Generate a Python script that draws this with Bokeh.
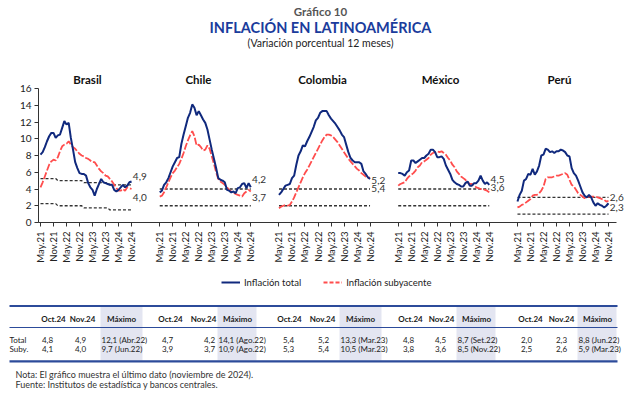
import math
from bokeh.plotting import figure
from bokeh.models import Range1d, FixedTicker, Label, Legend, LegendItem
from bokeh.embed import file_html
from bokeh.resources import INLINE
from bokeh.core.properties import value

# ---------------- data ----------------
countries = ["Brasil", "Chile", "Colombia", "México", "Perú"]
tick_labels = ["May.21", "Nov.21", "May.22", "Nov.22", "May.23", "Nov.23", "May.24", "Nov.24"]

# monthly, May 2021 .. Nov 2024
brasil_total = [8.1, 8.4, 9.0, 9.7, 10.3, 10.7, 10.7, 10.1,
                10.4, 10.5, 11.3, 12.1, 11.7, 11.9, 10.1, 8.7, 7.2, 6.5, 5.9, 5.8,
                5.8, 5.6, 4.7, 4.2, 3.9, 3.2, 4.0, 4.6, 5.2, 4.8, 4.7, 4.6,
                4.5, 4.5, 3.9, 3.7, 3.9, 4.2, 4.5, 4.2, 4.4, 4.8, 4.9]
brasil_core = [4.2, 4.8, 5.5, 6.2, 6.9, 7.3, 7.5, 7.4,
               7.8, 8.5, 9.1, 9.3, 9.4, 9.7, 9.3, 9.0, 8.8, 8.5, 8.2, 8.0,
               7.9, 7.7, 7.6, 7.4, 7.2, 7.2, 6.8, 6.4, 6.1, 5.9, 5.6, 5.5,
               5.2, 4.9, 4.5, 4.1, 3.8, 3.8, 4.0, 3.8, 4.2, 4.1, 4.0]
chile_total = [3.6, 3.8, 4.5, 4.8, 5.3, 6.0, 6.7, 7.2,
               7.7, 7.8, 9.4, 10.5, 11.5, 12.5, 13.1, 14.1, 13.7, 12.8, 13.3, 12.8,
               12.3, 11.9, 11.1, 9.9, 8.7, 7.6, 6.5, 5.3, 5.1, 5.0, 4.8, 3.9,
               3.8, 3.6, 3.7, 3.5, 4.1, 4.2, 4.6, 4.7, 4.1, 4.7, 4.2]
chile_core = [3.1, 3.2, 3.6, 4.2, 4.8, 5.4, 5.9, 6.2,
              6.6, 7.0, 7.6, 8.3, 9.1, 9.8, 10.4, 10.9, 10.3, 9.2, 9.3, 9.0,
              8.6, 8.7, 9.2, 8.8, 7.9, 7.0, 6.0, 5.2, 4.9, 4.7, 4.5, 4.2,
              3.9, 3.7, 3.6, 3.4, 3.3, 3.2, 3.1, 3.5, 3.7, 3.9, 3.7]
colombia_total = [3.3, 3.6, 4.0, 4.4, 4.5, 4.6, 5.3, 5.6,
                  6.9, 8.0, 8.5, 9.2, 9.1, 9.7, 10.2, 10.8, 11.4, 12.2, 12.5, 13.1,
                  13.3, 13.3, 13.3, 12.8, 12.4, 12.1, 11.8, 11.4, 11.0, 10.5, 10.2, 9.3,
                  8.4, 7.7, 7.4, 7.2, 7.2, 7.2, 7.0, 6.1, 5.8, 5.4, 5.2]
colombia_core = [1.7, 1.9, 2.0, 2.1, 2.0, 2.1, 2.5, 3.0,
                 3.6, 4.2, 4.8, 5.4, 5.9, 6.3, 6.8, 7.3, 7.8, 8.3, 8.8, 9.3,
                 9.8, 10.2, 10.5, 10.5, 10.4, 10.2, 9.9, 9.6, 9.2, 8.8, 8.4, 8.0,
                 7.6, 7.3, 7.0, 6.7, 6.4, 6.2, 5.9, 5.7, 5.5, 5.3, 5.4]
mexico_total = [5.9, 5.9, 5.8, 5.6, 6.0, 6.2, 7.4, 7.4,
                7.1, 7.3, 7.5, 7.7, 7.7, 8.0, 8.2, 8.7, 8.7, 8.4, 7.8, 7.8,
                7.9, 7.6, 6.8, 6.3, 5.8, 5.1, 4.8, 4.6, 4.5, 4.3, 4.3, 4.7,
                4.9, 4.4, 4.4, 4.7, 4.7, 5.0, 5.6, 5.0, 4.6, 4.8, 4.5]
mexico_core = [4.4, 4.6, 4.7, 4.8, 5.2, 5.5, 5.7, 5.9,
               6.2, 6.6, 6.8, 7.2, 7.3, 7.5, 7.7, 8.1, 8.3, 8.4, 8.5, 8.4,
               8.5, 8.3, 8.1, 7.7, 7.4, 6.9, 6.6, 6.1, 5.8, 5.5, 5.3, 5.1,
               4.8, 4.6, 4.6, 4.4, 4.2, 4.1, 4.0, 4.0, 3.9, 3.8, 3.6]
peru_total = [2.5, 3.3, 3.8, 5.0, 5.2, 5.8, 5.7, 6.4,
              5.7, 6.1, 6.8, 8.0, 8.1, 8.8, 8.7, 8.4, 8.5, 8.3, 8.5, 8.5,
              8.7, 8.6, 8.4, 8.0, 7.9, 6.5, 5.9, 5.6, 5.0, 4.3, 3.6, 3.2,
              3.0, 3.3, 3.0, 2.4, 2.0, 2.3, 2.1, 2.0, 1.8, 2.0, 2.3]
peru_core = [1.8, 1.9, 2.1, 2.2, 2.4, 2.6, 2.8, 3.2,
             3.3, 3.3, 3.5, 3.8, 4.3, 5.2, 5.4, 5.4, 5.4, 5.5, 5.6, 5.6,
             5.7, 5.8, 5.9, 5.7, 5.1, 4.5, 4.3, 3.9, 3.5, 3.3, 3.1, 2.9,
             3.0, 3.1, 3.1, 3.1, 3.1, 3.0, 2.9, 2.8, 2.7, 2.5, 2.6]

# inflation target ranges
brasil_upper_by_year = [5.25, 5.0, 4.75, 4.5]   # 2021..2024
brasil_lower_by_year = [2.25, 2.0, 1.75, 1.5]
months_in_year = [8, 12, 12, 11]
target_upper = [None, 4.0, 4.0, 4.0, 3.0]
target_lower = [None, 2.0, 2.0, 2.0, 1.0]

totals = [brasil_total, chile_total, colombia_total, mexico_total, peru_total]
cores = [brasil_core, chile_core, colombia_core, mexico_core, peru_core]

# table
table_cols = ["Oct.24", "Nov.24", "Máximo"]
row_names = ["Total", "Suby."]
oct_total = ["4,8", "4,7", "5,4", "4,8", "2,0"]
nov_total = ["4,9", "4,2", "5,2", "4,5", "2,3"]
max_total = ["12,1 (Abr.22)", "14,1 (Ago.22)", "13,3 (Mar.23)", "8,7 (Set.22)", "8,8 (Jun.22)"]
oct_core = ["4,1", "3,9", "5,3", "3,8", "2,5"]
nov_core = ["4,0", "3,7", "5,4", "3,6", "2,6"]
max_core = ["9,7 (Jun.22)", "10,9 (Ago.22)", "10,5 (Mar.23)", "8,5 (Nov.22)", "5,9 (Mar.23)"]

# ---------------- styles / layout ----------------
FONT = "Lato"
BLUE = "#10297d"
RED = "#ff4d4d"
TITLE_BLUE = "#1a3c9c"
GAP = 55          # months between panel starts
PXM = 2.168       # pixels per month
TOP_H = 265       # height of chart figure (page px)
X0 = -2 / PXM     # frame left at page x 38, first month at page x 40
X1 = X0 + 594 / PXM
Y1 = 222 * 16 / 134


def px2x(px):
    return X0 + (px - 38) / PXM


def py2y(py):
    return (222 - py) * 16 / 134


p = figure(width=640, height=TOP_H, x_range=Range1d(X0, X1), y_range=Range1d(0, Y1),
           output_backend="svg", toolbar_location=None,
           min_border_left=38, min_border_right=8, min_border_top=0,
           min_border_bottom=TOP_H - 222)
p.outline_line_color = None
p.xgrid.visible = False
p.ygrid.visible = False
p.background_fill_color = None
p.border_fill_color = "white"

for ax in (p.xaxis[0], p.yaxis[0]):
    ax.axis_line_color = "#333333"
    ax.major_tick_line_color = "#333333"
    ax.major_tick_in = 0
    ax.major_tick_out = 4
    ax.minor_tick_line_color = None
    ax.major_label_text_font = FONT
    ax.major_label_text_color = "#222222"

p.yaxis.ticker = FixedTicker(ticks=list(range(0, 17, 2)))
p.yaxis.bounds = (0, 16)
p.yaxis.major_label_text_font_size = "10px"
p.yaxis.major_label_standoff = 3

xt = []
overrides = {}
for k in range(len(countries)):
    for j, lab in enumerate(tick_labels):
        tv = k * GAP + j * 6
        xt.append(tv)
        overrides[tv] = lab
p.xaxis.ticker = FixedTicker(ticks=xt)
p.xaxis.bounds = (X0, px2x(616))
p.xaxis.major_label_overrides = overrides
p.xaxis.major_label_orientation = math.pi / 2
p.xaxis.major_label_text_font_size = "9.5px"
p.xaxis.major_label_standoff = 5

for k in range(len(countries)):
    n = len(totals[k])
    xs = [k * GAP + i for i in range(n)]
    if k == 0:
        up = [v for v, m in zip(brasil_upper_by_year, months_in_year) for _ in range(m)]
        lo = [v for v, m in zip(brasil_lower_by_year, months_in_year) for _ in range(m)]
    else:
        up = [target_upper[k]] * n
        lo = [target_lower[k]] * n
    p.line(xs, up, color="#333333", line_width=1.3, line_dash="3 2")
    p.line(xs, lo, color="#333333", line_width=1.3, line_dash="3 2")
    p.line(xs, cores[k], color=RED, line_width=1.8, line_dash="7 2")
    p.line(xs, totals[k], color=BLUE, line_width=2)


def lbl(text, px, py, size, bold=False, color="#222222", align="center"):
    p.add_layout(Label(x=px2x(px), y=py2y(py), text=text, text_font=FONT,
                       text_font_size=f"{size}px",
                       text_font_style="bold" if bold else "normal",
                       text_color=color, text_align=align, text_baseline="middle"))


lbl("Gráfico 10", 320, 11, 11.5, bold=True, color="#555555")
lbl("INFLACIÓN EN LATINOAMÉRICA", 320, 27, 14.5, bold=True, color=TITLE_BLUE)
lbl("(Variación porcentual 12 meses)", 320, 42, 10.5, color="#222222")

name_px = [87, 198, 322, 440, 559]
for k, name in enumerate(countries):
    lbl(name, name_px[k], 79, 11.5, bold=True, color="#111111")

# end-of-series value labels
total_lbl_py = [176, 179, 180, 179, 206.5]
core_lbl_py = [197, 196.5, 188, 187, 197]
for k in range(len(countries)):
    xe = k * GAP + len(totals[k]) - 1 + 0.6
    for series, py in ((totals[k], total_lbl_py[k]), (cores[k], core_lbl_py[k])):
        txt = f"{series[-1]:.1f}".replace(".", ",")
        p.add_layout(Label(x=xe, y=py2y(py), text=txt, text_font=FONT, text_font_size="10px",
                           text_color="#333333", text_align="left", text_baseline="middle"))

# ---------------- legend + table (separate root, page-pixel coordinates) ----------------
BOT_H = 397 - TOP_H
t = figure(width=640, height=BOT_H, x_range=Range1d(0, 640), y_range=Range1d(397, TOP_H),
           output_backend="svg", toolbar_location=None, min_border=0,
           x_axis_location=None, y_axis_location=None)
t.xgrid.visible = False
t.ygrid.visible = False
t.outline_line_color = None
t.background_fill_color = None

nan = float("nan")
lb = t.line([0, 1], [nan, nan], color=BLUE, line_width=2)
lr = t.line([0, 1], [nan, nan], color=RED, line_width=1.8, line_dash="4 2")
legend = Legend(items=[LegendItem(label="Inflación total", renderers=[lb]),
                       LegendItem(label="Inflación subyacente", renderers=[lr])],
                orientation="horizontal", location=(221, 397 - 289),
                border_line_color=None, background_fill_alpha=0,
                label_text_font=FONT, label_text_font_size="9.5px", label_text_color="#222222",
                glyph_width=19, glyph_height=10, label_standoff=4, spacing=22,
                padding=0, margin=0, label_height=14)
t.add_layout(legend)

shade_l = [100, 217, 339, 456, 577]
shade_r = [142, 256, 381, 495, 616]
t.quad(left=shade_l, right=shade_r, top=[306.5] * 5, bottom=[360] * 5,
       color="#e3e5f1", line_color=None)
LINE_BLUE = "#2c4b9a"
t.segment(x0=[9, 9, 9], y0=[305.5, 327, 360.8], x1=[617, 617, 617], y1=[305.5, 327, 360.8],
          line_color=LINE_BLUE, line_width=[2.2, 1.2, 2.2])

hdr_x = [[53, 82, 121], [170, 203, 237], [289, 322, 360], [410, 441, 476], [530, 561, 597]]
hx, hy, ht = [], [], []
for k in range(len(countries)):
    for c, name in enumerate(table_cols):
        hx.append(hdr_x[k][c])
        hy.append(318)
        ht.append(name)
t.text(x=hx, y=hy, text=ht, text_font=value(FONT), text_font_size="8px",
       text_font_style="bold", text_color="#1a1a1a", text_align="center", text_baseline="middle")

row_y = [339, 348.5]
t.text(x=[9, 9], y=row_y, text=row_names, text_font=value(FONT), text_font_size="8px",
       text_color="#222222", text_align="left", text_baseline="middle")

oct_x = [47, 167, 288, 408, 526]
nov_x = [80, 209, 323, 440, 561]
vx, vy, vt = [], [], []
for k in range(len(countries)):
    for row, (o, nv) in enumerate(((oct_total, nov_total), (oct_core, nov_core))):
        vx += [oct_x[k], nov_x[k]]
        vy += [row_y[row], row_y[row]]
        vt += [o[k], nv[k]]
t.text(x=vx, y=vy, text=vt, text_font=value(FONT), text_font_size="8px",
       text_color="#222222", text_align="center", text_baseline="middle")
mx, my, mt = [], [], []
for k in range(len(countries)):
    for row, m in enumerate((max_total, max_core)):
        mx.append(shade_l[k] + 1)
        my.append(row_y[row])
        mt.append(m[k])
t.text(x=mx, y=my, text=mt, text_font=value(FONT), text_font_size="8px",
       text_color="#222222", text_align="left", text_baseline="middle")

notes = ["Nota: El gráfico muestra el último dato (noviembre de 2024).",
         "Fuente: Institutos de estadística y bancos centrales."]
t.text(x=[15, 15], y=[374, 384], text=notes, text_font=value(FONT), text_font_size="9px",
       text_color="#333333", text_align="left", text_baseline="middle")

open("out.html", "w").write(file_html([p, t], INLINE))
